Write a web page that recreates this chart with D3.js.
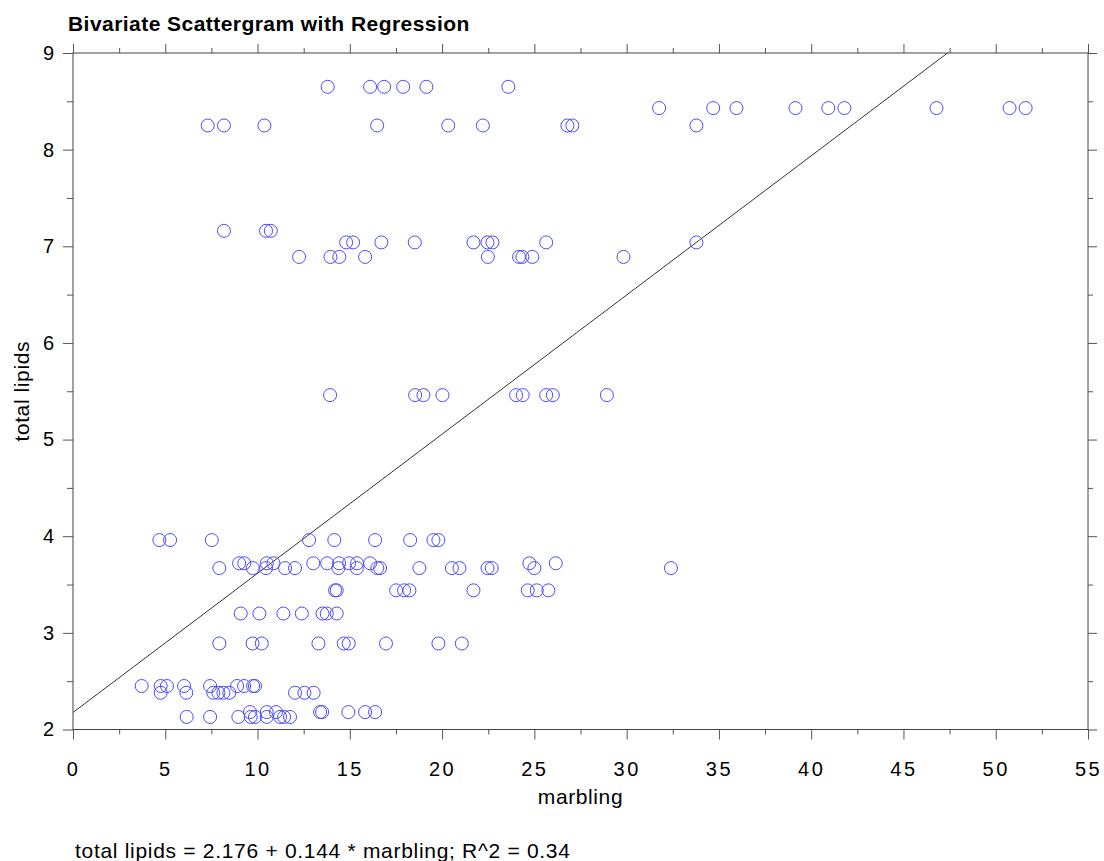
<!DOCTYPE html>
<html>
<head>
<meta charset="utf-8">
<script src="https://cdn.jsdelivr.net/npm/d3@7"></script>
<style>
  body { margin: 0; background: #fff; }
  text { font-family: "Liberation Sans", Arial, Helvetica, sans-serif; }
</style>
</head>
<body>
<svg id="chart" width="1104" height="861"></svg>
<script>
// marbling vs total lipids
const marbling = [
  13.80, 16.10, 16.86, 17.89, 19.15, 23.59,
  31.76, 34.69, 35.95, 39.15, 40.93, 41.80, 46.79, 50.75, 51.62,
  7.30, 8.18, 10.37, 16.48, 20.33, 22.21, 26.79, 27.06, 33.78,
  8.18, 10.46, 10.72,
  14.80, 15.18, 16.71, 18.52, 21.70, 22.46, 22.73, 25.64, 33.78,
  12.25, 13.95, 14.43, 15.83, 22.48, 24.17, 24.35, 24.89, 29.83,
  13.93, 18.54, 18.99, 20.02, 24.01, 24.37, 25.64, 26.00, 28.93,
  4.68, 5.26, 7.52, 12.79, 14.16, 16.37, 18.27, 19.53, 19.80,
  9.00, 9.28, 10.50, 10.86, 13.02, 13.77, 14.42, 14.96, 15.39, 16.10, 24.73, 26.16,
  7.93, 9.74, 10.46, 11.49, 12.03, 14.38, 15.38, 16.49, 16.64, 18.77, 20.53, 20.94, 22.46, 22.69, 25.00, 32.40,
  14.20, 14.29, 17.51, 17.94, 18.23, 21.70, 24.64, 25.13, 25.76,
  9.09, 10.10, 11.40, 12.40, 13.52, 13.75, 14.29,
  7.93, 9.73, 10.23, 13.30, 14.67, 14.94, 16.96, 19.80, 21.07,
  3.72, 4.75, 5.09, 6.02, 7.43, 8.89, 9.27, 9.76, 9.86,
  4.75, 6.14, 7.60, 7.88, 8.15, 8.47, 12.03, 12.54, 13.04,
  9.59, 10.50, 11.00, 13.39, 13.50, 14.92, 15.83, 16.37,
  6.16, 7.43, 8.96, 9.63, 9.86, 10.50, 11.22, 11.44, 11.76
];

const totalLipids = [
  8.65, 8.65, 8.65, 8.65, 8.65, 8.65,
  8.43, 8.43, 8.43, 8.43, 8.43, 8.43, 8.43, 8.43, 8.43,
  8.25, 8.25, 8.25, 8.25, 8.25, 8.25, 8.25, 8.25, 8.25,
  7.16, 7.16, 7.16,
  7.04, 7.04, 7.04, 7.04, 7.04, 7.04, 7.04, 7.04, 7.04,
  6.89, 6.89, 6.89, 6.89, 6.89, 6.89, 6.89, 6.89, 6.89,
  5.46, 5.46, 5.46, 5.46, 5.46, 5.46, 5.46, 5.46, 5.46,
  3.96, 3.96, 3.96, 3.96, 3.96, 3.96, 3.96, 3.96, 3.96,
  3.72, 3.72, 3.72, 3.72, 3.72, 3.72, 3.72, 3.72, 3.72, 3.72, 3.72, 3.72,
  3.67, 3.67, 3.67, 3.67, 3.67, 3.67, 3.67, 3.67, 3.67, 3.67, 3.67, 3.67, 3.67, 3.67, 3.67, 3.67,
  3.44, 3.44, 3.44, 3.44, 3.44, 3.44, 3.44, 3.44, 3.44,
  3.20, 3.20, 3.20, 3.20, 3.20, 3.20, 3.20,
  2.89, 2.89, 2.89, 2.89, 2.89, 2.89, 2.89, 2.89, 2.89,
  2.45, 2.45, 2.45, 2.45, 2.45, 2.45, 2.45, 2.45, 2.45,
  2.38, 2.38, 2.38, 2.38, 2.38, 2.38, 2.38, 2.38, 2.38,
  2.18, 2.18, 2.18, 2.18, 2.18, 2.18, 2.18, 2.18,
  2.13, 2.13, 2.13, 2.13, 2.13, 2.13, 2.13, 2.13, 2.13
];

const xMajorTicks = [0, 5, 10, 15, 20, 25, 30, 35, 40, 45, 50, 55];
const xMinorTicks = [2.5, 7.5, 12.5, 17.5, 22.5, 27.5, 32.5, 37.5, 42.5, 47.5, 52.5];
const yMajorTicks = [2, 3, 4, 5, 6, 7, 8, 9];
const yMinorTicks = [2.5, 3.5, 4.5, 5.5, 6.5, 7.5, 8.5];

const intercept = 2.176;
const slope = 0.144;
const rSquared = 0.34;

const data = marbling.map((m, i) => ({ x: m, y: totalLipids[i] }));

const svg = d3.select('#chart');
const margin = { top: 53, right: 16, bottom: 131.5, left: 73 };
const width = +svg.attr('width');
const height = +svg.attr('height');

const xScale = d3.scaleLinear()
  .domain([0, 55])
  .range([margin.left, width - margin.right]);

const yScale = d3.scaleLinear()
  .domain([2, 9])
  .range([height - margin.bottom, margin.top]);

const x0 = xScale.range()[0], x1 = xScale.range()[1];
const y0 = yScale.range()[0], y1 = yScale.range()[1];

function styleAxis(g) {
  g.select('.domain').remove();
  g.selectAll('.tick line').attr('stroke', '#555');
}

// bottom axis
svg.append('g')
  .attr('transform', `translate(0, ${y0})`)
  .call(d3.axisBottom(xScale).tickValues(xMinorTicks).tickSize(5).tickFormat(''))
  .call(styleAxis);

svg.append('g')
  .attr('class', 'x-axis')
  .attr('transform', `translate(0, ${y0})`)
  .call(d3.axisBottom(xScale).tickValues(xMajorTicks).tickSize(10).tickPadding(22).tickFormat(d3.format('d')))
  .call(styleAxis)
  .selectAll('text')
  .attr('fill', '#000')
  .style('font-size', '20px')
  .style('letter-spacing', '2.5px');

// top axis
svg.append('g')
  .attr('transform', `translate(0, ${y1})`)
  .call(d3.axisTop(xScale).tickValues(xMinorTicks).tickSize(5).tickFormat(''))
  .call(styleAxis);

svg.append('g')
  .attr('transform', `translate(0, ${y1})`)
  .call(d3.axisTop(xScale).tickValues(xMajorTicks).tickSize(9).tickFormat(''))
  .call(styleAxis);

// left axis
svg.append('g')
  .attr('transform', `translate(${x0}, 0)`)
  .call(d3.axisLeft(yScale).tickValues(yMinorTicks).tickSize(6).tickFormat(''))
  .call(styleAxis);

svg.append('g')
  .attr('class', 'y-axis')
  .attr('transform', `translate(${x0}, 0)`)
  .call(d3.axisLeft(yScale).tickValues(yMajorTicks).tickSize(10).tickPadding(9).tickFormat(d3.format('d')))
  .call(styleAxis)
  .selectAll('text')
  .attr('fill', '#000')
  .style('font-size', '20px');

// right axis
svg.append('g')
  .attr('transform', `translate(${x1}, 0)`)
  .call(d3.axisRight(yScale).tickValues(yMinorTicks).tickSize(5).tickFormat(''))
  .call(styleAxis);

svg.append('g')
  .attr('transform', `translate(${x1}, 0)`)
  .call(d3.axisRight(yScale).tickValues(yMajorTicks).tickSize(9).tickFormat(''))
  .call(styleAxis);

// frame
svg.append('rect')
  .attr('x', x0)
  .attr('y', y1)
  .attr('width', x1 - x0)
  .attr('height', y0 - y1)
  .attr('fill', 'none')
  .attr('stroke', '#444')
  .attr('stroke-width', 1);

// regression line, stopped where it leaves the top of the plot
const xEnd = Math.min(55, (9 - intercept) / slope);
svg.append('line')
  .attr('x1', xScale(0))
  .attr('y1', yScale(intercept))
  .attr('x2', xScale(xEnd))
  .attr('y2', yScale(intercept + slope * xEnd))
  .attr('stroke', '#333')
  .attr('stroke-width', 1);

svg.selectAll('circle.pt')
  .data(data)
  .enter().append('circle')
  .attr('class', 'pt')
  .attr('cx', d => xScale(d.x))
  .attr('cy', d => yScale(d.y))
  .attr('r', 6.5)
  .attr('fill', 'none')
  .attr('stroke', '#4b4bff')
  .attr('stroke-width', 1);

svg.append('text')
  .attr('x', 68)
  .attr('y', 31)
  .style('font-size', '21px')
  .style('font-weight', 'bold')
  .style('letter-spacing', '0.45px')
  .text('Bivariate Scattergram with Regression');

svg.append('text')
  .attr('x', (x0 + x1) / 2)
  .attr('y', 804)
  .attr('text-anchor', 'middle')
  .style('font-size', '21px')
  .style('letter-spacing', '0.6px')
  .text('marbling');

svg.append('text')
  .attr('transform', `translate(29, ${(y0 + y1) / 2}) rotate(-90)`)
  .attr('text-anchor', 'middle')
  .style('font-size', '21px')
  .style('letter-spacing', '0.6px')
  .text('total lipids');

svg.append('text')
  .attr('x', 75)
  .attr('y', 858)
  .style('font-size', '21px')
  .style('letter-spacing', '0.7px')
  .text(`total lipids = ${intercept} + ${slope} * marbling; R^2 = ${rSquared}`);
</script>
</body>
</html>
